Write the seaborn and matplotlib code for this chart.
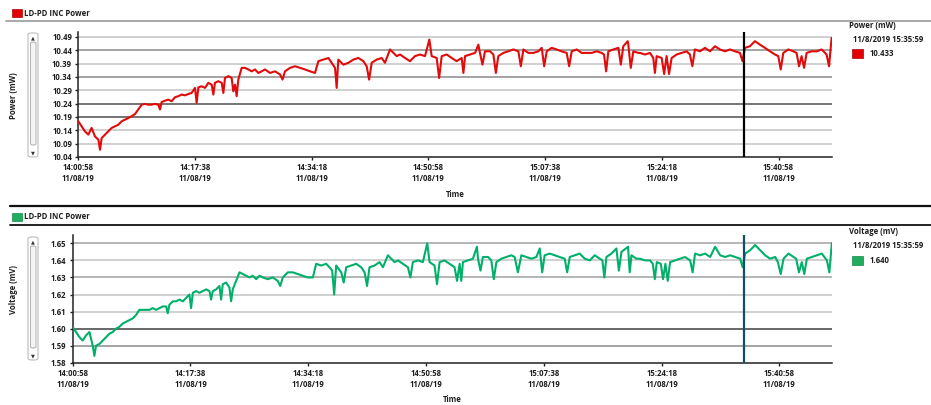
import matplotlib
matplotlib.use("Agg")
import matplotlib.pyplot as plt
import seaborn as sns
import pandas as pd
from matplotlib.patches import Rectangle, FancyBboxPatch
from matplotlib.lines import Line2D

# ---------------- data (seconds after 14:00:58 on 11/08/19) ----------------
power_time_s = [0, 29, 57, 86, 114, 143, 172, 186, 200, 229, 257, 286, 314, 343, 372, 400, 429, 457, 486, 514,
                543, 572, 600, 629, 657, 686, 700, 714, 743, 771, 800, 829, 857, 886, 914, 943, 971, 1000, 1014,
                1029, 1057, 1086, 1114, 1143, 1157, 1171, 1200, 1229, 1243, 1257, 1286, 1314, 1328, 1343, 1357,
                1371, 1400, 1428, 1457, 1486, 1514, 1543, 1571, 1600,
                1643, 1686, 1729, 1750, 1771, 1814, 1857, 1900, 1943, 1986, 2028, 2057, 2100, 2143, 2171, 2200,
                2214, 2228, 2271, 2314, 2357, 2400, 2443, 2471, 2492, 2514, 2557, 2600, 2628, 2671, 2700, 2728,
                2757, 2800, 2842, 2885, 2928, 2971, 3008, 3028, 3071, 3092, 3114, 3157, 3200, 3242, 3285,
                3300, 3314, 3357, 3400, 3428, 3442, 3463, 3485, 3528, 3557, 3578, 3599, 3642, 3685, 3728, 3771,
                3792, 3814, 3856, 3899, 3942, 3971, 3992, 4014, 4056, 4099, 4142, 4185, 4206, 4228, 4271, 4313,
                4356, 4399, 4442, 4485, 4505, 4523, 4542, 4585, 4628, 4649, 4670, 4708, 4713, 4734, 4756, 4799,
                4813, 4856, 4899, 4927, 4941, 4956, 4999, 5020, 5041, 5062, 5084, 5127, 5170, 5213, 5241, 5262,
                5284, 5327, 5370, 5413, 5456, 5498, 5541, 5584, 5627, 5670, 5691, 5713, 5755, 5798, 5841, 5884,
                5927, 5970, 5998, 6019, 6041, 6084, 6127, 6155, 6176, 6198, 6219, 6241, 6284, 6327, 6370, 6412,
                6433, 6455]
power_mw = [10.174, 10.155, 10.136, 10.124, 10.149, 10.117, 10.105, 10.067, 10.111, 10.124, 10.136, 10.149,
            10.155, 10.161, 10.174, 10.180, 10.186, 10.193, 10.201, 10.218, 10.236, 10.239, 10.236, 10.236,
            10.239, 10.236, 10.218, 10.246, 10.251, 10.255, 10.249, 10.264, 10.268, 10.274, 10.271, 10.276,
            10.280, 10.299, 10.243, 10.301, 10.305, 10.299, 10.318, 10.311, 10.274, 10.318, 10.324, 10.318,
            10.280, 10.336, 10.343, 10.336, 10.286, 10.311, 10.268, 10.330, 10.374, 10.374, 10.368, 10.361,
            10.368, 10.355, 10.361, 10.368,
            10.355, 10.361, 10.349, 10.330, 10.361, 10.374, 10.380, 10.374, 10.368, 10.361, 10.355, 10.399,
            10.405, 10.411, 10.393, 10.374, 10.299, 10.405, 10.386, 10.393, 10.405, 10.411, 10.399, 10.380,
            10.330, 10.393, 10.405, 10.411, 10.393, 10.443, 10.430, 10.418, 10.424, 10.411, 10.399, 10.418,
            10.424, 10.418, 10.480, 10.418, 10.411, 10.336, 10.418, 10.424, 10.411, 10.399, 10.411,
            10.355, 10.418, 10.424, 10.430, 10.461, 10.430, 10.386, 10.436, 10.436, 10.424, 10.355, 10.418,
            10.430, 10.436, 10.443, 10.436, 10.380, 10.443, 10.430, 10.430, 10.436, 10.449, 10.380, 10.436,
            10.449, 10.443, 10.436, 10.430, 10.380, 10.436, 10.443, 10.430, 10.430, 10.430, 10.436, 10.430,
            10.424, 10.361, 10.436, 10.443, 10.449, 10.386, 10.455, 10.474, 10.461, 10.374, 10.436, 10.430,
            10.430, 10.424, 10.430, 10.411, 10.355, 10.418, 10.411, 10.351, 10.418, 10.351, 10.411, 10.424,
            10.430, 10.436, 10.424, 10.380, 10.443, 10.436, 10.449, 10.436, 10.455, 10.443, 10.436, 10.443,
            10.436, 10.430, 10.399, 10.449, 10.455, 10.474, 10.461, 10.449, 10.436, 10.424, 10.418, 10.368,
            10.430, 10.443, 10.436, 10.430, 10.380, 10.418, 10.374, 10.430, 10.436, 10.436, 10.443, 10.424,
            10.380, 10.486]

voltage_time_s = [0, 28, 57, 85, 113, 142, 170, 184, 198, 227, 255, 283, 312, 340, 368, 396, 425, 453, 481, 510,
                  538, 566, 595, 623, 651, 680, 708, 736, 765, 793, 807, 821, 850, 878, 906, 935, 963, 991, 1005,
                  1020, 1048, 1076, 1104, 1133, 1161, 1175, 1189, 1218, 1246, 1260, 1274, 1303, 1331, 1345, 1359,
                  1388, 1416, 1444, 1473, 1501, 1529, 1558, 1586,
                  1614, 1656, 1699, 1741, 1762, 1784, 1826, 1869, 1911, 1954, 1996, 2039, 2067, 2110, 2152, 2180,
                  2203, 2220, 2237, 2280, 2301, 2322, 2364, 2407, 2449, 2478, 2499, 2520, 2563, 2605, 2634, 2676,
                  2704, 2733, 2761, 2803, 2846, 2867, 2888, 2931, 2973, 3010, 3030, 3072, 3093, 3115, 3157, 3200,
                  3242, 3263, 3285,
                  3299, 3313, 3356, 3398, 3432, 3441, 3462, 3483, 3526, 3554, 3575, 3597, 3639, 3682, 3724, 3752,
                  3780, 3809, 3851, 3894, 3937, 3965, 3986, 4007, 4050, 4092, 4135, 4177, 4198, 4220, 4262, 4305,
                  4347, 4390, 4432, 4475, 4497, 4514, 4531, 4574, 4616, 4637, 4659, 4715, 4729, 4744, 4786,
                  4817, 4859, 4902, 4925, 4942, 4959, 4993, 5012, 5032, 5052, 5072, 5114, 5157, 5199, 5242, 5263,
                  5284, 5327, 5369, 5412, 5454, 5497, 5539, 5582, 5624, 5667, 5688, 5709, 5752, 5794, 5837, 5879,
                  5921, 5964, 5987, 6011, 6035, 6077, 6120, 6142, 6166, 6190, 6211, 6233, 6275, 6318, 6360, 6403,
                  6424, 6445]
voltage_mv = [1.601, 1.598, 1.595, 1.593, 1.596, 1.598, 1.590, 1.584, 1.590, 1.591, 1.593, 1.595, 1.597, 1.598,
              1.600, 1.601, 1.603, 1.604, 1.605, 1.606, 1.608, 1.611, 1.611, 1.611, 1.611, 1.612, 1.611, 1.612,
              1.613, 1.613, 1.609, 1.614, 1.616, 1.616, 1.617, 1.616, 1.618, 1.620, 1.612, 1.621, 1.622, 1.621,
              1.622, 1.623, 1.622, 1.617, 1.622, 1.623, 1.625, 1.617, 1.626, 1.627, 1.624, 1.616, 1.623, 1.628,
              1.633, 1.632, 1.631, 1.630, 1.631, 1.629, 1.631,
              1.630, 1.629, 1.630, 1.628, 1.625, 1.630, 1.633, 1.633, 1.632, 1.631, 1.630, 1.630, 1.638, 1.637,
              1.638, 1.636, 1.634, 1.620, 1.637, 1.633, 1.627, 1.636, 1.637, 1.638, 1.636, 1.633, 1.625, 1.636,
              1.637, 1.639, 1.636, 1.643, 1.641, 1.639, 1.640, 1.638, 1.636, 1.630, 1.639, 1.640, 1.639, 1.650,
              1.639, 1.637, 1.626, 1.639, 1.640, 1.638, 1.636, 1.628, 1.638,
              1.628, 1.639, 1.640, 1.641, 1.648, 1.641, 1.634, 1.642, 1.642, 1.640, 1.629, 1.639, 1.641, 1.642,
              1.643, 1.642, 1.633, 1.643, 1.642, 1.641, 1.642, 1.647, 1.633, 1.643, 1.644, 1.643, 1.642, 1.641,
              1.633, 1.642, 1.643, 1.644, 1.641, 1.640, 1.643, 1.641, 1.640, 1.630, 1.642, 1.644, 1.647, 1.634,
              1.645, 1.648, 1.633, 1.643, 1.641,
              1.641, 1.640, 1.640, 1.638, 1.629, 1.639, 1.638, 1.629, 1.638, 1.628, 1.639, 1.640, 1.641, 1.642,
              1.640, 1.633, 1.644, 1.643, 1.644, 1.642, 1.648, 1.643, 1.642, 1.643, 1.642, 1.641, 1.636, 1.644,
              1.646, 1.649, 1.646, 1.643, 1.641, 1.642, 1.639, 1.632, 1.641, 1.644, 1.642, 1.641, 1.633, 1.639,
              1.632, 1.641, 1.642, 1.643, 1.644, 1.640, 1.633, 1.650]

x_tick_s = [0, 1000, 2000, 3000, 4000, 5000, 6000]
x_tick_labels = ["14:00:58\n11/08/19", "14:17:38\n11/08/19", "14:34:18\n11/08/19", "14:50:58\n11/08/19",
                 "15:07:38\n11/08/19", "15:24:18\n11/08/19", "15:40:58\n11/08/19"]
power_ticks = [10.04, 10.09, 10.14, 10.19, 10.24, 10.29, 10.34, 10.39, 10.44, 10.49]
voltage_ticks = [1.58, 1.59, 1.60, 1.61, 1.62, 1.63, 1.64, 1.65]
cursor_s = 5701
cursor_label = "11/8/2019 15:35:59"
power_cursor_value = "10.433"
voltage_cursor_value = "1.640"
panel_title = "LD-PD INC Power"

# ---------------- styling ----------------
sns.set_theme(style="white")
plt.rcParams['font.family'] = ['Open Sans', 'DejaVu Sans']
W, H = 931, 405
RED = "#e20a0a"
GREEN = "#00b06a"
FS = 5.6
TXT = "#1e1e1e"


def fx(x):
    return x / W


def fy(y):
    return 1 - y / H


fig = plt.figure(figsize=(W / 100, H / 100), dpi=100)
fig.patch.set_facecolor("white")

ax1 = fig.add_axes([fx(78.3), fy(157), fx(832.3) - fx(78.3), fy(31.7) - fy(157)])
ax2 = fig.add_axes([fx(72.7), fy(362.7), fx(832.3) - fx(72.7), fy(235) - fy(362.7)])

power_df = pd.DataFrame({"t": power_time_s, "v": power_mw})
volt_df = pd.DataFrame({"t": voltage_time_s, "v": voltage_mv})

sns.lineplot(data=power_df, x="t", y="v", ax=ax1, color=RED, linewidth=1.5,
             estimator=None, sort=False, zorder=3)
sns.lineplot(data=volt_df, x="t", y="v", ax=ax2, color=GREEN, linewidth=1.5,
             estimator=None, sort=False, zorder=3)

grid_top = {10.09: "#c4c4c4", 10.14: "#c4c4c4", 10.19: "#505050", 10.24: "#505050", 10.29: "#c4c4c4",
            10.34: "#8a8a8a", 10.39: "#c4c4c4", 10.44: "#8a8a8a", 10.49: "#c4c4c4"}
grid_bot = {1.59: "#8a8a8a", 1.60: "#404040", 1.61: "#c4c4c4", 1.62: "#c4c4c4", 1.63: "#a0a0a0",
            1.64: "#c4c4c4", 1.65: "#a0a0a0"}

for ax, ticks, ylim, xlim, grid, cur_col in [
        (ax1, power_ticks, (10.04, 10.5095), (0, 6461), grid_top, "black"),
        (ax2, voltage_ticks, (1.58, 1.6549), (0, 6449), grid_bot, "#0b4f68")]:
    ax.set_xlim(*xlim)
    ax.set_ylim(*ylim)
    ax.set_yticks(ticks)
    ax.set_yticklabels(["{:.2f}".format(t) for t in ticks])
    ax.set_xticks(x_tick_s)
    ax.set_xticklabels(x_tick_labels, linespacing=1.25)
    ax.set_xlabel("")
    ax.set_ylabel("")
    for yv, c in grid.items():
        ax.axhline(yv, color=c, lw=1.1, zorder=1)
    ax.axvline(cursor_s, color=cur_col, lw=1.6, zorder=4)
    for s in ["top", "right"]:
        ax.spines[s].set_visible(False)
    for s in ["left", "bottom"]:
        ax.spines[s].set_color("#222222")
        ax.spines[s].set_linewidth(1.1)
    ax.tick_params(axis="both", which="both", direction="out", length=2.5, width=1,
                   color="#222222", labelsize=FS, pad=2, labelcolor=TXT,
                   left=True, bottom=True)
    for lab in ax.get_xticklabels() + ax.get_yticklabels():
        lab.set_fontweight("bold")
    ax.set_facecolor("white")

# axis titles
fig.text(fx(14), fy(96), "Power (mW)", rotation=90, ha="center", va="center", fontsize=FS,
         fontweight="bold", color=TXT)
fig.text(fx(14), fy(290), "Voltage (mV)", rotation=90, ha="center", va="center", fontsize=FS,
         fontweight="bold", color=TXT)
fig.text(fx(455), fy(195), "Time", ha="center", va="center", fontsize=FS, fontweight="bold", color=TXT)
fig.text(fx(452), fy(399), "Time", ha="center", va="center", fontsize=FS, fontweight="bold", color=TXT)

# headers
fig.add_artist(Rectangle((fx(11.5), fy(17)), fx(10), fy(9) - fy(17), transform=fig.transFigure,
                         facecolor="#e00000", edgecolor="#b00000", lw=0.5))
fig.text(fx(23.5), fy(13), panel_title, ha="left", va="center", fontsize=FS, fontweight="bold", color=TXT)
fig.add_artist(Line2D([fx(6), 1], [fy(20.7), fy(20.7)], transform=fig.transFigure, color="#999999", lw=1.2))

fig.add_artist(Line2D([fx(10), 1], [fy(206), fy(206)], transform=fig.transFigure, color="#111111", lw=1.6))
fig.add_artist(Rectangle((fx(11.5), fy(221)), fx(10), fy(213) - fy(221), transform=fig.transFigure,
                         facecolor="#20ad60", edgecolor="#108a48", lw=0.5))
fig.text(fx(23.5), fy(217), panel_title, ha="left", va="center", fontsize=FS, fontweight="bold", color=TXT)
fig.add_artist(Line2D([fx(10), 1], [fy(224.5), fy(224.5)], transform=fig.transFigure, color="#111111", lw=1.3))

# scrollbars
for y0, y1 in [(33, 157), (237, 360)]:
    fig.add_artist(FancyBboxPatch((fx(28), fy(y1)), fx(10), fy(y0) - fy(y1),
                                  boxstyle="round,pad=0,rounding_size=0.004", transform=fig.transFigure,
                                  facecolor="white", edgecolor="#bcbcbc", lw=0.8))
    fig.add_artist(FancyBboxPatch((fx(30.5), fy(y1 - 12)), fx(5.5), fy(y0 + 9) - fy(y1 - 12),
                                  boxstyle="round,pad=0,rounding_size=0.003", transform=fig.transFigure,
                                  facecolor="#f4f4f4", edgecolor="#b0b0b0", lw=0.7))
    fig.text(fx(33.3), fy(y0 + 4.5), "\u25B2", ha="center", va="center", fontsize=3.6, color="#333333",
             family="DejaVu Sans")
    fig.text(fx(33.3), fy(y1 - 4.5), "\u25BC", ha="center", va="center", fontsize=3.6, color="#333333",
             family="DejaVu Sans")

# right-side cursor legends
for y_title, title, col, edge, val in [(25, "Power (mW)", "#e00000", "#b00000", power_cursor_value),
                                       (232, "Voltage (mV)", "#20ad60", "#108a48", voltage_cursor_value)]:
    fig.text(fx(849), fy(y_title), title, ha="left", va="center", fontsize=FS, fontweight="bold", color=TXT)
    fig.text(fx(853), fy(y_title + 14), cursor_label, ha="left", va="center", fontsize=FS,
             fontweight="bold", color=TXT)
    fig.add_artist(Rectangle((fx(852), fy(y_title + 33)), fx(11), fy(y_title + 24) - fy(y_title + 33),
                             transform=fig.transFigure, facecolor=col, edgecolor=edge, lw=0.5))
    fig.text(fx(870), fy(y_title + 28.5), val, ha="left", va="center", fontsize=FS, fontweight="bold",
             color=TXT)

fig.savefig("out.png", dpi=100, facecolor="white")
